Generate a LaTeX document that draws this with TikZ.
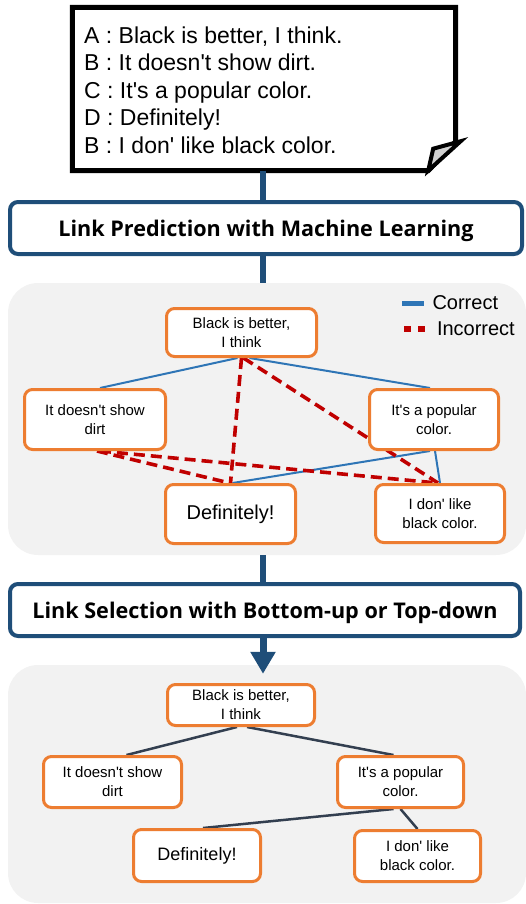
\documentclass[tikz,border=0pt]{standalone}
\usepackage{fontspec}
\setmainfont{Liberation Sans}
\newfontfamily\titlefont{Open Sans}
\usetikzlibrary{arrows.meta,calc,backgrounds}
\definecolor{dblue}{HTML}{1F4E79}
\definecolor{orng}{HTML}{ED7D31}
\definecolor{panelgray}{HTML}{F2F2F2}
\definecolor{cblue}{HTML}{2E75B6}
\definecolor{cred}{HTML}{C00000}
\definecolor{tree}{HTML}{333F50}
\pgfdeclarelayer{panels}
\pgfdeclarelayer{edges}
\pgfsetlayers{panels,edges,main}
\newcommand{\aq}{\textquotesingle}
\begin{document}
\begin{tikzpicture}[x=1pt,y=-1pt,
  utt/.style={draw=orng, line width=3pt, fill=white, rounded corners=8pt, align=center,
    font=\fontsize{15}{19}\selectfont, inner sep=0pt},
  bigutt/.style={utt, font=\fontsize{20}{24}\selectfont},
  titlebox/.style={draw=dblue, line width=4pt, fill=white, rounded corners=8pt,
    minimum width=512pt, minimum height=52pt, inner sep=0pt, text depth=0pt,
    font=\titlefont\bfseries\fontsize{21.6}{25}\selectfont},
  panel/.style={fill=panelgray, rounded corners=30pt, draw=none, inner sep=0pt},
  flow/.style={draw=dblue, line width=6pt},
  good/.style={cblue, line width=2pt},
  bad/.style={cred, line width=3.6pt, dash pattern=on 11pt off 6pt},
  link/.style={tree, line width=2.5pt}]
\useasboundingbox (0,0) rectangle (526,904);

% dialog box
\node[minimum width=383pt, minimum height=163pt, inner sep=0pt] (dlg) at (264,89) {};
\draw[line width=5pt, line join=miter, fill=white]
  (dlg.north west) -- (dlg.north east) -- ($(dlg.south east)+(0,-29)$)
  -- ($(dlg.south east)+(-27.5,0)$) -- (dlg.south west) -- cycle;
\draw[line width=4pt, line join=miter, fill=black!18]
  ($(dlg.south east)+(-27.5,0)$) -- ($(dlg.south east)+(-22.5,-22)$) -- ($(dlg.south east)+(5,-29.5)$) -- cycle;
\node[anchor=west, align=left, inner sep=0pt, font=\fontsize{23}{27.5}\selectfont] (dtext) at (84,90)
  {A : Black is better, I think.\\B : It doesn\aq t show dirt.\\C : It\aq s a popular color.\\D : Definitely!\\B : I don\aq{} like black color.};

\coordinate (cx) at (263,0);

% titles
\node[titlebox] (t1) at (266,228) {Link Prediction with Machine Learning};
\node[titlebox, minimum width=510pt] (t2) at (265,610) {Link Selection with Bottom-up or Top-down};

% panels
\begin{pgfonlayer}{panels}
\node[panel, minimum width=518pt, minimum height=272pt] (pan1) at (267,419) {};
\node[panel, minimum width=518pt, minimum height=238pt] (pan2) at (267,784) {};
\end{pgfonlayer}

% flow connectors
\draw[flow] (dlg.south -| cx) -- (t1.north -| cx);
\draw[flow] (t1.south -| cx) -- (pan1.north -| cx);
\draw[flow] (pan1.south -| cx) -- (t2.north -| cx);
\draw[dblue, line width=7pt, -{Triangle[length=22pt,width=24pt]}] (t2.south -| cx) -- ($(pan2.north -| cx)+(0,9)$);

% panel 1 nodes
\node[utt, minimum width=150pt, minimum height=48pt] (b1) at (241.5,332.5) {Black is better,\\I think};
\node[utt, minimum width=141pt, minimum height=60pt] (d1) at (95,419.5) {It doesn\aq t show\\dirt};
\node[utt, minimum width=129pt, minimum height=60pt] (p1) at (434,419.5) {It\aq s a popular\\color.};
\node[bigutt, minimum width=130pt, minimum height=59pt] (f1) at (230.5,514) {Definitely!};
\node[utt, minimum width=129pt, minimum height=58pt] (i1) at (440,513.5) {I don\aq{} like\\black color.};

% legend
\coordinate (lg1) at (402,303);
\coordinate (lg2) at (402,329);
\draw[cblue, line width=5pt] (lg1) -- ++(22,0) node[black, anchor=west, inner sep=0pt, xshift=6pt, font=\fontsize{20}{24}\selectfont] (lgc) {Correct};
\draw[cred, line width=6pt, dash pattern=on 7pt off 7pt] ($(lg2)+(2,0)$) -- ++(21,0) node[black, anchor=west, inner sep=0pt, xshift=9pt, font=\fontsize{20}{24}\selectfont] (lgi) {Incorrect};

\begin{pgfonlayer}{edges}
\draw[good] ($(b1.south)+(-4,0)$) -- ($(d1.north)+(5,0)$);
\draw[good] ($(b1.south)+(8,0)$) -- ($(p1.north)+(-4,0)$);
\draw[good] ($(p1.south)+(-4,0)$) -- ($(f1.north)+(2,0)$);
\draw[good] ($(p1.south)+(1,0)$) -- (i1.north);
\draw[bad] (b1.south) -- (f1.north);
\draw[bad] ($(b1.south)+(2,0)$) -- ($(i1.north)+(-2,0)$);
\draw[bad] ($(d1.south)+(2,0)$) -- ($(f1.north)+(-1,0)$);
\draw[bad] ($(d1.south)+(5,0)$) -- ($(i1.north)+(-3,0)$);
\end{pgfonlayer}

% panel 2 nodes
\node[utt, minimum width=147pt, minimum height=41pt] (b2) at (241,705) {Black is better,\\I think};
\node[utt, minimum width=138pt, minimum height=51pt] (d2) at (112.5,782) {It doesn\aq t show\\dirt};
\node[utt, minimum width=126pt, minimum height=51pt] (p2) at (400.5,782) {It\aq s a popular\\color.};
\node[utt, font=\fontsize{18}{22}\selectfont, minimum width=127pt, minimum height=52pt] (f2) at (197,855.5) {Definitely!};
\node[utt, minimum width=126pt, minimum height=51pt] (i2) at (417.5,856) {I don\aq{} like\\black color.};

\begin{pgfonlayer}{edges}
\draw[link] ($(b2.south)+(-4,0)$) -- ($(d2.north)+(14,0)$);
\draw[link] ($(b2.south)+(6,0)$) -- ($(p2.north)+(-7,0)$);
\draw[link] ($(p2.south)+(-7,0)$) -- ($(f2.north)+(6,0)$);
\draw[link] (p2.south) -- (i2.north);
\end{pgfonlayer}
\end{tikzpicture}
\end{document}
